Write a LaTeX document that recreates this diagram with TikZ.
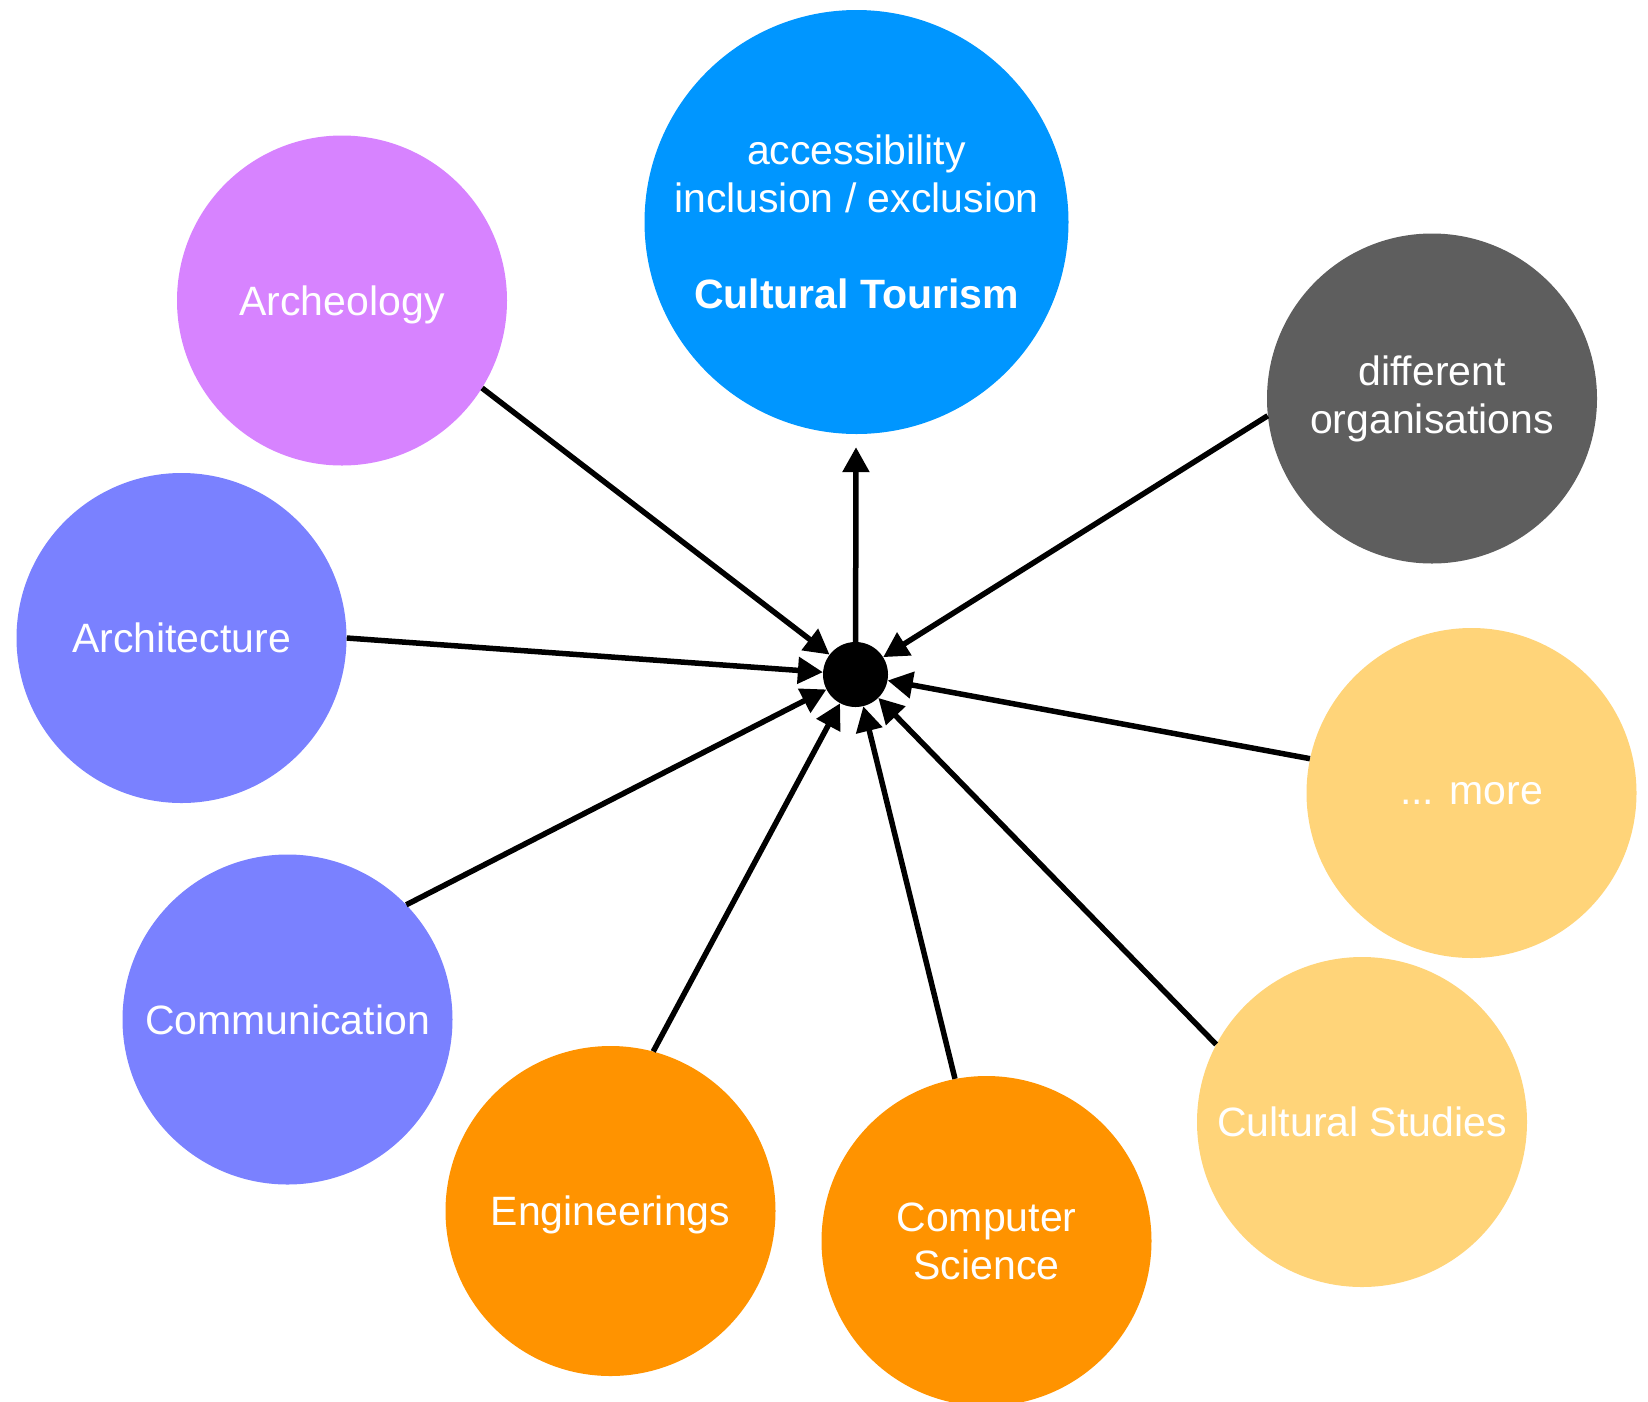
\documentclass[tikz,border=0pt]{standalone}
\usepackage{fontspec}
\setmainfont{Liberation Sans}
\usetikzlibrary{arrows.meta}
\definecolor{ctblue}{HTML}{0096FF}
\definecolor{lavender}{HTML}{D783FF}
\definecolor{periwinkle}{HTML}{7A81FF}
\definecolor{darkgrey}{HTML}{5E5E5E}
\definecolor{tangerine}{HTML}{FF9300}
\definecolor{cantaloupe}{HTML}{FFD479}
\begin{document}
\begin{tikzpicture}[x=1pt,y=-1pt,
  bub/.style={circle, minimum size=330pt, inner sep=0pt, text=white, align=center,
    font=\fontsize{41}{48}\selectfont},
  oneline/.style={text depth=0pt},
  arr/.style={line width=5.5pt, -{Triangle[length=25pt,width=26pt]}}]
\clip (0,0) rectangle (1648,1401);
\useasboundingbox (0,0) rectangle (1648,1401);
\node[bub, fill=ctblue, minimum size=424pt] (tour) at (856.5,222)
  {accessibility\\inclusion / exclusion\\[48pt]\textbf{Cultural Tourism}};
\node[bub, oneline, fill=lavender] (arch) at (342,300.5) {Archeology};
\node[bub, fill=darkgrey] (org) at (1432,398.5) {different\\organisations};
\node[bub, oneline, fill=periwinkle] (archi) at (181.5,638) {Architecture};
\node[bub, oneline, fill=periwinkle] (comm) at (287.5,1019.5) {Communication};
\node[bub, oneline, fill=tangerine] (eng) at (610.5,1211) {Engineerings};
\node[bub, fill=tangerine] (cs) at (986.5,1241) {Computer\\Science};
\node[bub, oneline, fill=cantaloupe] (cult) at (1362,1122) {Cultural Studies};
\node[bub, oneline, fill=cantaloupe] (more) at (1471.5,793) {... more};
\node[circle, fill=black, minimum size=65pt, inner sep=0pt] (hub) at (855.5,674.5) {};
\draw[arr, shorten >=13pt] (hub) -- (tour);
\draw[arr] (arch.-32.4) -- (hub);
\draw[arr] (org.186.9) -- (hub);
\draw[arr] (archi.0) -- (hub);
\draw[arr] (comm.44.6) -- (hub);
\draw[arr] (eng.75.4) -- (hub);
\draw[arr] (cs.101.5) -- (hub);
\draw[arr] (cult.152.4) -- (hub);
\draw[arr] (more.168) -- (hub);
\end{tikzpicture}
\end{document}
